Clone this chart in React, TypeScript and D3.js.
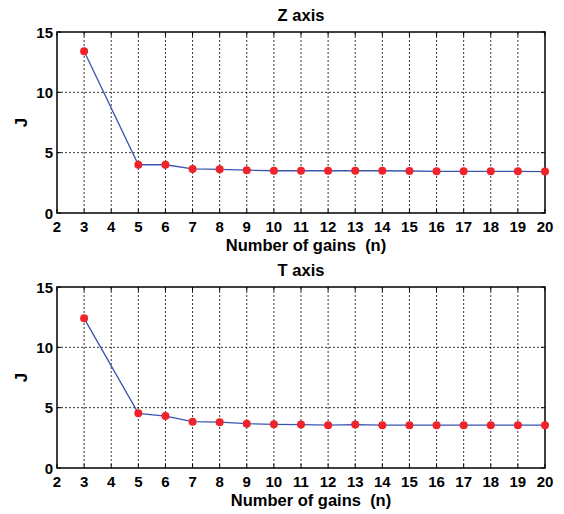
import React from "react";
import * as d3 from "d3";

const gains = [3, 5, 6, 7, 8, 9, 10, 11, 12, 13, 14, 15, 16, 17, 18, 19, 20];
const zValues = [13.4, 4.0, 4.0, 3.65, 3.62, 3.55, 3.5, 3.5, 3.5, 3.5, 3.5, 3.48, 3.45, 3.45, 3.45, 3.45, 3.43];
const tValues = [12.4, 4.53, 4.3, 3.84, 3.8, 3.67, 3.62, 3.6, 3.55, 3.6, 3.55, 3.55, 3.55, 3.55, 3.55, 3.55, 3.55];
const xTicks = d3.range(2, 21);
const yTicks = [0, 5, 10, 15];
const titles = ["Z axis", "T axis"];
const xLabel = "Number of gains  (n)";
const yLabel = "J";

const FONT = "'Liberation Sans', Arial, sans-serif";

function Panel({ top, title, values, labelDx }: { top: number; title: string; values: number[]; labelDx: number }) {
  const left = 57, right = 545, h = 181;
  const x = d3.scaleLinear().domain([2, 20]).range([left, right]);
  const y = d3.scaleLinear().domain([0, 15]).range([top + h, top]);
  const line = d3.line<number>().x((_, i) => x(gains[i])).y((d) => y(d));
  return (
    <g>
      <text x={(left + right) / 2} y={top - 11} textAnchor="middle" fontFamily={FONT} fontWeight="bold" fontSize={16.5}>{title}</text>
      {xTicks.slice(1, -1).map((t) => (
        <line key={"gx" + t} x1={x(t)} x2={x(t)} y1={top} y2={top + h} stroke="#000" strokeWidth={0.8} strokeDasharray="2,2" />
      ))}
      {yTicks.slice(1, -1).map((t) => (
        <line key={"gy" + t} x1={left} x2={right} y1={y(t)} y2={y(t)} stroke="#000" strokeWidth={0.8} strokeDasharray="2,2" />
      ))}
      {yTicks.map((t) => (
        <g key={"ty" + t}>
          <line x1={left} x2={left + 4} y1={y(t)} y2={y(t)} stroke="#000" />
          <line x1={right} x2={right - 4} y1={y(t)} y2={y(t)} stroke="#000" />
          <text x={left - 4} y={y(t) + 5.5} textAnchor="end" fontFamily={FONT} fontWeight="bold" fontSize={15}>{t}</text>
        </g>
      ))}
      {xTicks.map((t) => (
        <g key={"tx" + t}>
          <line x1={x(t)} x2={x(t)} y1={top + h} y2={top + h - 4} stroke="#000" />
          <line x1={x(t)} x2={x(t)} y1={top} y2={top + 4} stroke="#000" />
          <text x={x(t)} y={top + h + 19} textAnchor="middle" fontFamily={FONT} fontWeight="bold" fontSize={15}>{t}</text>
        </g>
      ))}
      <rect x={left} y={top} width={right - left} height={h} fill="none" stroke="#000" strokeWidth={1.5} />
      <path d={line(values) || ""} fill="none" stroke="#3a55b0" strokeWidth={1.3} />
      {values.map((v, i) => (
        <circle key={i} cx={x(gains[i])} cy={y(v)} r={4} fill="#f0222a" />
      ))}
      <text x={(left + right) / 2 + labelDx} y={top + h + 38} textAnchor="middle" fontFamily={FONT} fontWeight="bold" fontSize={16.5} style={{ whiteSpace: "pre" }}>{xLabel}</text>
      <text transform={`translate(27,${top + h / 2}) rotate(-90)`} textAnchor="middle" fontFamily={FONT} fontWeight="bold" fontSize={17}>{yLabel}</text>
    </g>
  );
}

export default function App() {
  return (
    <svg width={564} height={514} style={{ position: "absolute", left: 0, top: 0, background: "#fff" }}>
      <rect width={564} height={514} fill="#fff" />
      <Panel top={32} title={titles[0]} values={zValues} labelDx={5} />
      <Panel top={287} title={titles[1]} values={tValues} labelDx={10} />
    </svg>
  );
}
